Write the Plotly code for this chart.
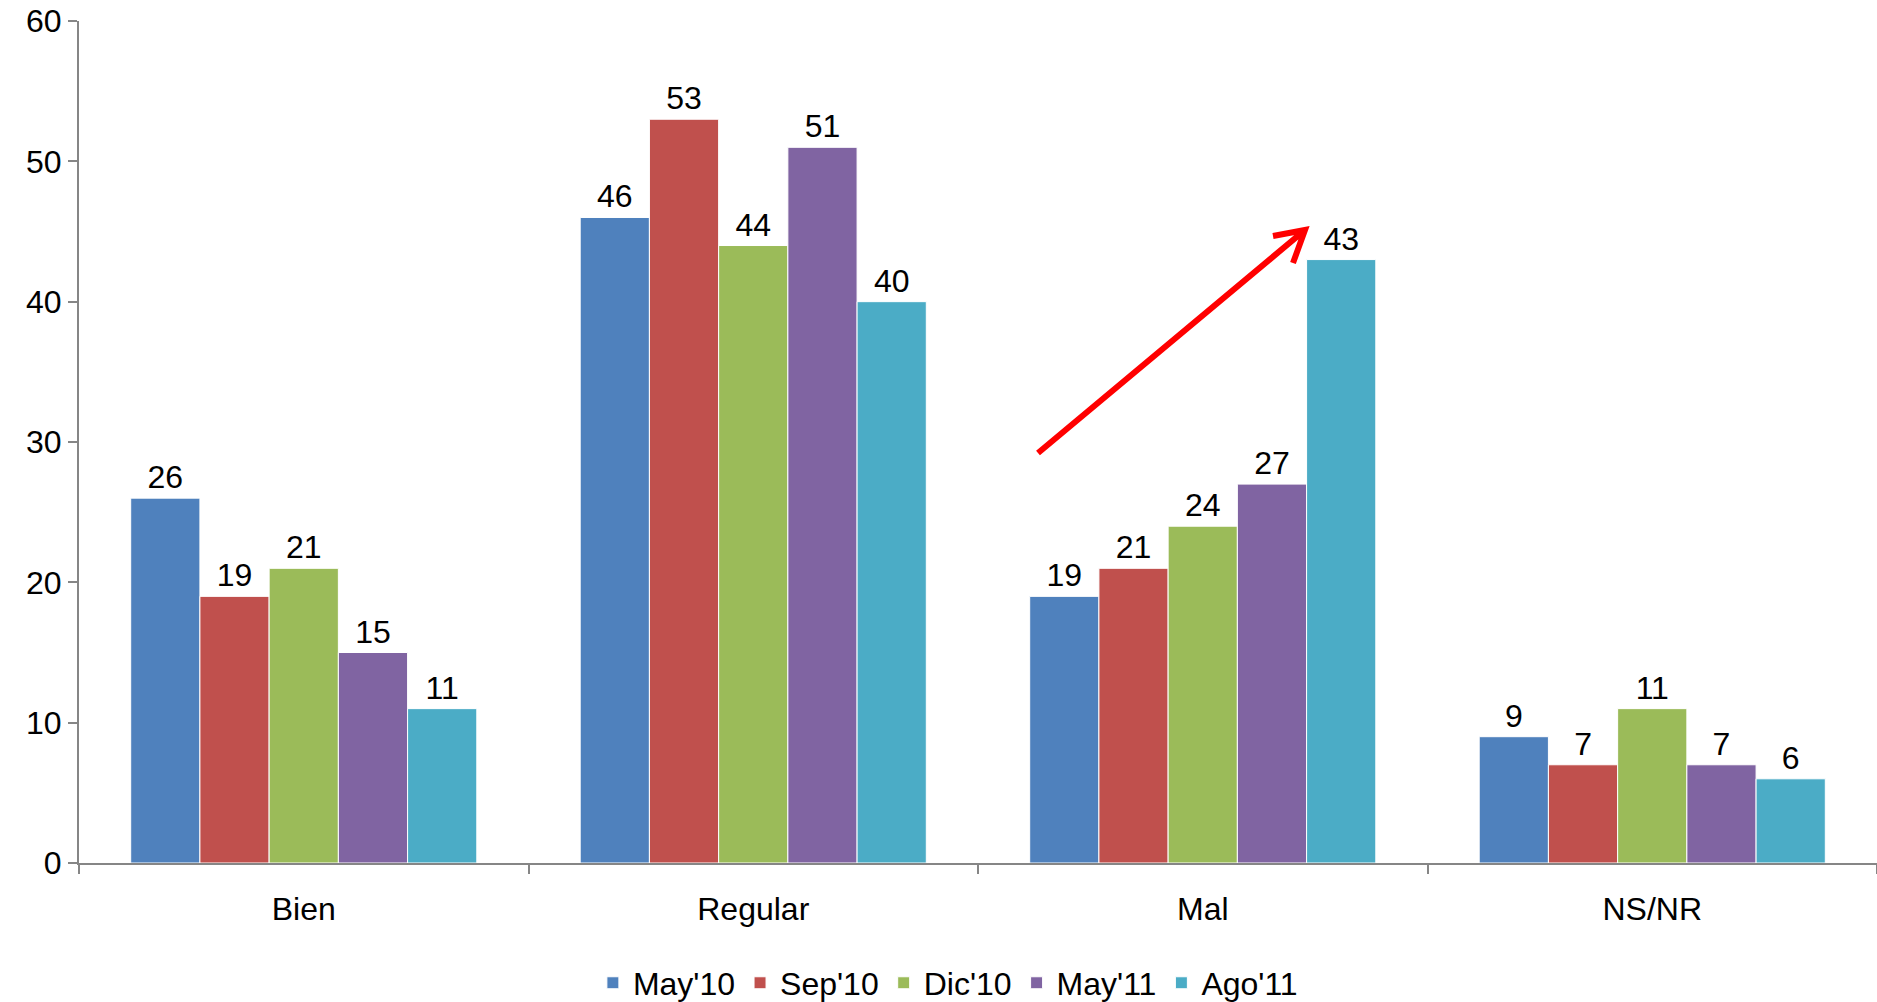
import plotly.graph_objects as go

categories = ["Bien", "Regular", "Mal", "NS/NR"]
series_names = ["May'10", "Sep'10", "Dic'10", "May'11", "Ago'11"]
may10 = [26, 46, 19, 9]
sep10 = [19, 53, 21, 7]
dic10 = [21, 44, 24, 11]
may11 = [15, 51, 27, 7]
ago11 = [11, 40, 43, 6]
y_ticks = [0, 10, 20, 30, 40, 50, 60]

colors = ["#4F81BD", "#C0504D", "#9BBB59", "#8064A2", "#4BACC6"]
values = [may10, sep10, dic10, may11, ago11]
FONT = "Arial, Liberation Sans, sans-serif"
FS = 32

fig = go.Figure()
for name, vals, col in zip(series_names, values, colors):
    fig.add_trace(go.Bar(
        x=categories, y=vals, name=name,
        marker=dict(color=col, line=dict(color="white", width=1)),
        text=[str(v) for v in vals], textposition="outside",
        textfont=dict(size=FS, color="black", family=FONT),
        cliponaxis=False,
    ))

W, H = 1877, 1002
L, R, T, B = 79, 0, 21, 139
pw, ph = W - L - R, H - T - B


def px(x):
    return (x - L) / pw


def py(y):
    return (H - B - y) / ph


# red trend arrow (annotation, in paper coordinates)
tail = (1038, 453)
head = (1305, 230)
wing1 = (1273, 236)
wing2 = (1293, 263)
path = (f"M {px(tail[0])},{py(tail[1])} L {px(head[0])},{py(head[1])} "
        f"M {px(wing1[0])},{py(wing1[1])} L {px(head[0])},{py(head[1])} "
        f"L {px(wing2[0])},{py(wing2[1])}")

fig.update_layout(
    width=W, height=H,
    margin=dict(l=L, r=R, t=T, b=B, pad=0, autoexpand=False),
    paper_bgcolor="white", plot_bgcolor="white",
    barmode="group", bargap=0.23, bargroupgap=0,
    font=dict(family=FONT, size=FS, color="black"),
    showlegend=True,
    legend=dict(orientation="h", xref="container", x=0.505, xanchor="center",
                yref="container", y=0.019, yanchor="middle",
                font=dict(size=FS, family=FONT), itemwidth=30, tracegroupgap=0),
    xaxis=dict(showline=True, linecolor="#868686", linewidth=2, automargin=False,
               ticks="outside", tickson="boundaries", ticklen=9, tickcolor="#868686",
               tickwidth=2, tickfont=dict(size=FS), showgrid=False, ticklabelstandoff=17),
    yaxis=dict(range=[0, 60], tickvals=y_ticks, showline=True, linecolor="#868686",
               linewidth=2, ticks="outside", ticklen=9, tickcolor="#868686", tickwidth=2,
               tickfont=dict(size=FS), showgrid=False, zeroline=False, automargin=False),
    shapes=[dict(type="path", xref="paper", yref="paper", path=path,
                 line=dict(color="#FF0000", width=6))],
)

fig.write_html("out.html", config={"displayModeBar": False},
               post_script="document.body.style.margin='0';document.body.style.overflow='hidden';")
